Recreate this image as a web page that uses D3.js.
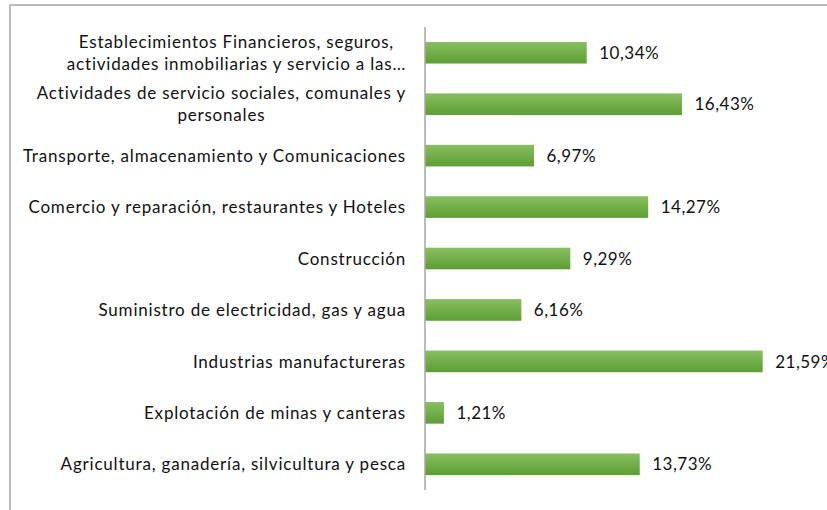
<!DOCTYPE html>
<html><head><meta charset="utf-8">
<script src="https://cdn.jsdelivr.net/npm/d3@7"></script>
<style>body{margin:0;background:#fff}svg{display:block}</style>
</head><body>
<svg id="c" width="827" height="510"></svg>
<script>
const categories = [
  "Establecimientos Financieros, seguros,\nactividades inmobiliarias y servicio a las…",
  "Actividades de servicio sociales, comunales y\npersonales",
  "Transporte, almacenamiento y Comunicaciones",
  "Comercio y reparación, restaurantes y Hoteles",
  "Construcción",
  "Suministro de electricidad, gas y agua",
  "Industrias manufactureras",
  "Explotación de minas y canteras",
  "Agricultura, ganadería, silvicultura y pesca"
];
const values = [10.34, 16.43, 6.97, 14.27, 9.29, 6.16, 21.59, 1.21, 13.73];
const valueLabels = ["10,34%", "16,43%", "6,97%", "14,27%", "9,29%", "6,16%", "21,59%", "1,21%", "13,73%"];

const svg = d3.select("#c");
const font = "Lato, 'Open Sans', sans-serif";
const fs = 17;

// outer chart border
svg.append("rect").attr("x", 10).attr("y", 5).attr("width", 900).attr("height", 600)
  .attr("fill", "none").attr("stroke", "#a6a6a6").attr("stroke-width", 1.5);

const defs = svg.append("defs");
const grad = defs.append("linearGradient").attr("id", "g").attr("x1", 0).attr("y1", 0).attr("x2", 0).attr("y2", 1);
grad.append("stop").attr("offset", "0%").attr("stop-color", "#89bf61");
grad.append("stop").attr("offset", "100%").attr("stop-color", "#5c9e33");

const x = d3.scaleLinear().domain([0, 25]).range([425, 816]);
const y = d3.scaleBand().domain(categories).range([27, 490]).paddingInner(0.58).paddingOuter(0.29);

svg.selectAll("rect.bar").data(values).join("rect").attr("class", "bar")
  .attr("x", x(0)).attr("y", (d, i) => y(categories[i]))
  .attr("width", d => x(d) - x(0)).attr("height", y.bandwidth())
  .attr("fill", "url(#g)");

// axis line
svg.append("line").attr("x1", x(0)).attr("x2", x(0)).attr("y1", 27).attr("y2", 490)
  .attr("stroke", "#a6a6a6").attr("stroke-width", 1.5);

// value labels
svg.selectAll("text.val").data(values).join("text").attr("class", "val")
  .attr("x", d => x(d) + 12.5)
  .attr("y", (d, i) => y(categories[i]) + y.bandwidth() / 2)
  .attr("dy", "0.36em")
  .attr("font-family", font).attr("font-size", fs).attr("letter-spacing", 0.5).attr("fill", "#111")
  .text((d, i) => valueLabels[i]);

// category labels
const right = 406, lh = 22;
categories.forEach(c => {
  const lines = c.split("\n");
  const cy = y(c) + y.bandwidth() / 2;
  const g = svg.append("g");
  const ts = lines.map((l, k) => g.append("text")
    .attr("y", cy + (k - (lines.length - 1) / 2) * lh)
    .attr("dy", "0.36em").attr("text-anchor", "middle")
    .attr("font-family", font).attr("font-size", fs).attr("letter-spacing", 0.8)
    .attr("fill", "#111").text(l));
  const w = d3.max(ts, t => t.node().getComputedTextLength());
  ts.forEach(t => t.attr("x", right - w / 2));
});
</script>
</body></html>
